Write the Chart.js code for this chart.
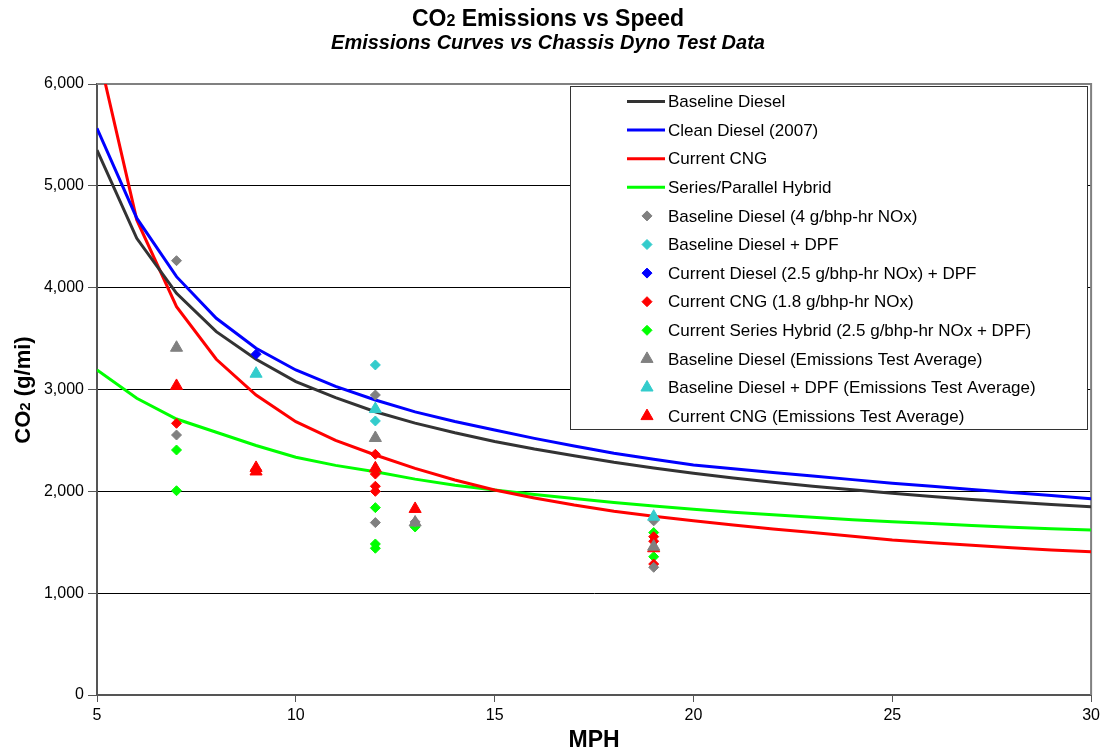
<!DOCTYPE html>
<html>
<head>
<meta charset="utf-8">
<script src="https://cdn.jsdelivr.net/npm/chart.js@4.4.0/dist/chart.umd.min.js"></script>
<style>
  html, body { margin: 0; padding: 0; background: #fff; }
  #wrap { width: 1104px; height: 748px; }
</style>
</head>
<body>
<div id="wrap"><canvas id="co2Chart" width="1104" height="748"></canvas></div>
<script>
// speed points (mph) for the modelled curves
const speeds = [5, 6, 7, 8, 9, 10, 11, 12, 13, 14, 15, 16, 17, 18, 19, 20, 21, 22, 23, 24, 25, 26, 27, 28, 29, 30];

// modelled CO2 curves, g/mi
const baselineDiesel = [5350, 4485, 3945, 3568, 3297, 3077, 2920, 2782, 2670, 2575, 2490, 2415, 2350, 2285, 2230, 2177, 2130, 2090, 2050, 2015, 1981, 1950, 1920, 1895, 1870, 1849];
const cleanDiesel = [5565, 4682, 4108, 3699, 3405, 3192, 3030, 2897, 2780, 2685, 2602, 2520, 2445, 2375, 2315, 2259, 2222, 2186, 2150, 2115, 2079, 2049, 2018, 1988, 1958, 1928];
const currentCng = [6360, 4665, 3813, 3297, 2946, 2684, 2500, 2357, 2226, 2111, 2013, 1935, 1865, 1805, 1755, 1712, 1670, 1630, 1595, 1560, 1522, 1495, 1470, 1447, 1425, 1407];
const hybrid = [3192, 2914, 2710, 2580, 2450, 2335, 2255, 2193, 2120, 2060, 2013, 1970, 1930, 1890, 1855, 1823, 1795, 1770, 1745, 1722, 1702, 1683, 1665, 1648, 1633, 1620];

// chassis dyno test points [mph, g/mi]
const baselineTests = [[7, 4265], [7, 2553], [12, 2946], [12, 1693], [13, 1700], [19, 1710], [19, 1254]];
const baselineDpfTests = [[12, 3241], [12, 2691]];
const currentDieselTests = [[9, 3346]];
const cngTests = [[7, 2668], [9, 2215], [12, 2364], [12, 2170], [12, 2050], [12, 2000], [19, 1555], [19, 1510], [19, 1286]];
const hybridTests = [[7, 2406], [7, 2006], [12, 1840], [12, 1483], [12, 1441], [13, 1650], [19, 1595], [19, 1358]];
const baselineAvg = [[7, 3410], [12, 2524], [13, 1694], [19, 1457]];
const baselineDpfAvg = [[9, 3155], [12, 2808], [19, 1751]];
const cngAvg = [[7, 3035], [9, 2230], [9, 2195], [12, 2226], [13, 1827], [19, 1441]];

const yTicks = [0, 1000, 2000, 3000, 4000, 5000, 6000];

const FONT = '"Liberation Sans", Arial, sans-serif';

const curve = (vals) => vals.map((v, i) => ({ x: speeds[i], y: v }));
const pts = (arr) => arr.map(p => ({ x: p[0], y: p[1] }));

function lineSet(label, vals, color) {
  return {
    type: 'line', label: label, data: curve(vals),
    borderColor: color, backgroundColor: color, borderWidth: 3,
    pointRadius: 0, tension: 0, fill: false, order: 10
  };
}
function markSet(label, arr, color, style) {
  return {
    type: 'scatter', label: label, data: pts(arr),
    backgroundColor: color, borderColor: color, borderWidth: 1,
    pointStyle: style, pointRadius: style === 'triangle' ? 7 : 5,
    pointHoverRadius: 0, order: style === 'triangle' ? 0 : 1
  };
}

// "CO" + smaller "2" + rest, on one baseline
function drawCO2(ctx, before, after, font, small, x, y, align) {
  ctx.font = font;
  const w1 = ctx.measureText(before).width;
  const w3 = ctx.measureText(after).width;
  ctx.font = small;
  const w2 = ctx.measureText('2').width;
  const total = w1 + w2 + w3;
  let sx = align === 'center' ? x - total / 2 : x;
  ctx.textAlign = 'left';
  ctx.textBaseline = 'alphabetic';
  ctx.font = font; ctx.fillText(before, sx, y);
  ctx.font = small; ctx.fillText('2', sx + w1, y);
  ctx.font = font; ctx.fillText(after, sx + w1 + w2, y);
  return total;
}

const textPlugin = {
  id: 'chartText',
  beforeDatasetsDraw(chart) {
    const ctx = chart.ctx, a = chart.chartArea;
    ctx.save();
    // plot frame: top and right edges
    ctx.strokeStyle = '#808080';
    ctx.lineWidth = 2;
    ctx.beginPath();
    ctx.moveTo(a.left, a.top); ctx.lineTo(a.right, a.top); ctx.lineTo(a.right, a.bottom);
    ctx.stroke();
    ctx.restore();
  },
  afterDatasetsDraw(chart) {
    const ctx = chart.ctx, a = chart.chartArea;
    ctx.save();
    ctx.fillStyle = '#000';

    // titles
    drawCO2(ctx, 'CO', ' Emissions vs Speed', 'bold 23px ' + FONT, 'bold 16px ' + FONT, 548, 26, 'center');
    ctx.font = 'italic bold 20px ' + FONT;
    ctx.textAlign = 'center';
    ctx.fillText('Emissions Curves vs Chassis Dyno Test Data', 548, 49);

    // axis titles
    ctx.font = 'bold 23px ' + FONT;
    ctx.textAlign = 'center';
    ctx.textBaseline = 'alphabetic';
    ctx.fillText('MPH', (a.left + a.right) / 2, 747);
    ctx.save();
    ctx.translate(30, 390);
    ctx.rotate(-Math.PI / 2);
    drawCO2(ctx, 'CO', ' (g/mi)', 'bold 22px ' + FONT, 'bold 15px ' + FONT, 0, 0, 'center');
    ctx.restore();

    // legend box
    const bx = 570, by = 86, bw = 517, bh = 343;
    ctx.fillStyle = '#fff';
    ctx.fillRect(bx, by, bw, bh);
    ctx.strokeStyle = '#333';
    ctx.lineWidth = 1;
    ctx.strokeRect(bx + 0.5, by + 0.5, bw, bh);
    ctx.font = '17px ' + FONT;
    ctx.textAlign = 'left';
    ctx.textBaseline = 'middle';
    chart.data.datasets.forEach((ds, i) => {
      const ry = 101.5 + i * 28.6;
      if (ds.type === 'line') {
        ctx.strokeStyle = ds.borderColor;
        ctx.lineWidth = 3;
        ctx.beginPath();
        ctx.moveTo(627, ry); ctx.lineTo(665, ry);
        ctx.stroke();
      } else {
        ctx.fillStyle = ds.backgroundColor;
        ctx.strokeStyle = ds.borderColor;
        ctx.lineWidth = 1;
        Chart.helpers.drawPoint(ctx, {
          pointStyle: ds.pointStyle, rotation: 0,
          radius: ds.pointStyle === 'triangle' ? 7 : 5, borderWidth: 1
        }, 647, ry);
      }
      ctx.fillStyle = '#000';
      ctx.fillText(ds.label, 668, ry + 1);
    });
    ctx.restore();
  }
};

const chartCtx = document.getElementById('co2Chart').getContext('2d');

let co2Chart = new Chart(chartCtx, {
  data: {
    datasets: [
      lineSet('Baseline Diesel', baselineDiesel, '#333333'),
      lineSet('Clean Diesel (2007)', cleanDiesel, '#0000ff'),
      lineSet('Current CNG', currentCng, '#ff0000'),
      lineSet('Series/Parallel Hybrid', hybrid, '#00ff00'),
      markSet('Baseline Diesel (4 g/bhp-hr NOx)', baselineTests, '#808080', 'rectRot'),
      markSet('Baseline Diesel + DPF', baselineDpfTests, '#33cccc', 'rectRot'),
      markSet('Current Diesel (2.5 g/bhp-hr NOx) + DPF', currentDieselTests, '#0000ff', 'rectRot'),
      markSet('Current CNG (1.8 g/bhp-hr NOx)', cngTests, '#ff0000', 'rectRot'),
      markSet('Current Series Hybrid (2.5 g/bhp-hr NOx + DPF)', hybridTests, '#00ff00', 'rectRot'),
      markSet('Baseline Diesel (Emissions Test Average)', baselineAvg, '#808080', 'triangle'),
      markSet('Baseline Diesel + DPF (Emissions Test Average)', baselineDpfAvg, '#33cccc', 'triangle'),
      markSet('Current CNG (Emissions Test Average)', cngAvg, '#ff0000', 'triangle')
    ]
  },
  options: {
    responsive: false,
    animation: false,
    layout: { padding: { top: 84, right: 12, left: 0, bottom: 0 } },
    plugins: {
      legend: { display: false },
      title: { display: false },
      tooltip: { enabled: false }
    },
    scales: {
      x: {
        type: 'linear',
        min: 5, max: 30,
        afterFit: (s) => { s.height = 53; },
        ticks: { stepSize: 5, color: '#000', font: { family: FONT, size: 16 }, padding: 4 },
        grid: { drawOnChartArea: false, drawTicks: true, tickLength: 7, tickColor: '#555' },
        border: { display: true, color: '#555', width: 2 }
      },
      y: {
        type: 'linear',
        min: 0, max: 6000,
        afterFit: (s) => { s.width = 97; },
        afterBuildTicks: (s) => { s.ticks = yTicks.map(v => ({ value: v })); },
        ticks: {
          color: '#000', font: { family: FONT, size: 16 }, padding: 4,
          callback: (v) => v.toLocaleString('en-US')
        },
        grid: { color: '#000', lineWidth: 1, tickLength: 9, tickColor: '#555' },
        border: { display: true, color: '#555', width: 2 }
      }
    }
  },
  plugins: [textPlugin]
});
</script>
</body>
</html>
